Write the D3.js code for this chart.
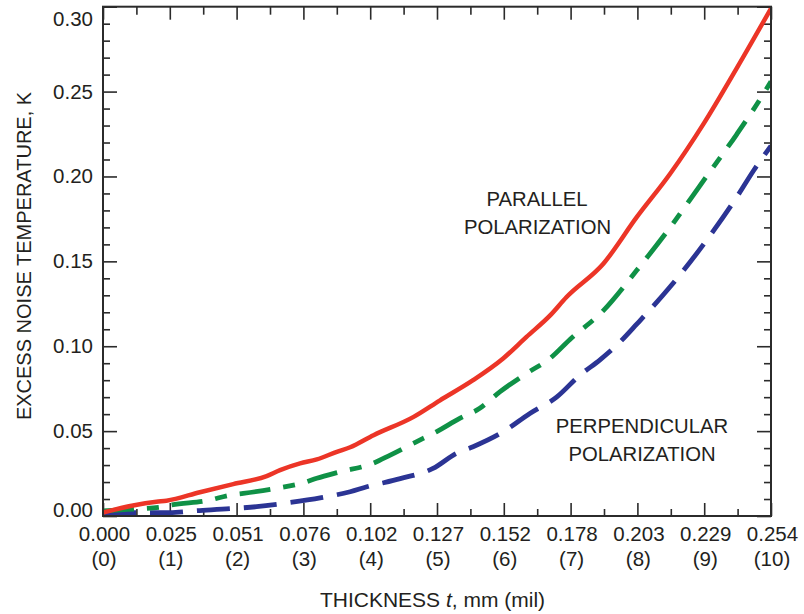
<!DOCTYPE html>
<html>
<head>
<meta charset="utf-8">
<script src="https://cdn.jsdelivr.net/npm/d3@7"></script>
<style>
  html, body { margin: 0; padding: 0; background: #fff; }
  svg { display: block; }
  text { font-family: "Liberation Sans", Arial, Helvetica, sans-serif; fill: #231f20; }
</style>
</head>
<body>
<svg id="chart" width="804" height="614"></svg>
<script>
// ---- data (thickness in mil, excess noise temperature in K) ----
const parallelMil = [0, 0.45, 0.8, 0.95, 1.45, 1.95, 2.45, 2.65, 2.95, 3.2, 3.5, 3.7, 4.05, 4.65, 5.04, 5.54, 5.99, 6.34, 6.69, 6.94, 7.49, 7.99, 8.49, 8.99, 9.49, 10];
const parallelK   = [0.002, 0.0062, 0.0084, 0.009, 0.014, 0.0188, 0.0235, 0.027, 0.031, 0.0333, 0.0378, 0.0405, 0.0476, 0.0584, 0.068, 0.080, 0.0928, 0.1055, 0.118, 0.129, 0.1486, 0.176, 0.2016, 0.231, 0.264, 0.299];

const midMil = [0, 0.45, 0.9, 1.03, 1.55, 1.92, 2.1, 2.6, 3.0, 3.2, 3.55, 4.04, 4.3, 4.69, 4.99, 5.34, 5.64, 5.94, 6.34, 6.69, 6.99, 7.49, 7.99, 8.49, 8.99, 9.49, 9.84, 10];
const midK   = [0.003, 0.004, 0.0055, 0.0065, 0.009, 0.0124, 0.0133, 0.0163, 0.0196, 0.0222, 0.026, 0.031, 0.0359, 0.0437, 0.0496, 0.0575, 0.0634, 0.0731, 0.084, 0.0928, 0.104, 0.121, 0.1447, 0.170, 0.1976, 0.225, 0.2457, 0.256];

const perpMil = [0, 0.45, 1.0, 1.35, 1.9, 2.3, 2.72, 3.27, 3.7, 3.95, 4.45, 4.94, 5.29, 5.54, 5.99, 6.39, 6.79, 7.14, 7.44, 7.74, 7.99, 8.49, 8.99, 9.49, 9.74, 10];
const perpK   = [0.002, 0.002, 0.002, 0.003, 0.0043, 0.0055, 0.0075, 0.0108, 0.0143, 0.0172, 0.022, 0.028, 0.0369, 0.0408, 0.0496, 0.0604, 0.070, 0.083, 0.092, 0.1025, 0.113, 0.135, 0.160, 0.188, 0.2035, 0.218];

const xTickMil   = [0, 1, 2, 3, 4, 5, 6, 7, 8, 9, 10];
const xTickMm    = ["0.000", "0.025", "0.051", "0.076", "0.102", "0.127", "0.152", "0.178", "0.203", "0.229", "0.254"];
const xTickMilLb = ["(0)", "(1)", "(2)", "(3)", "(4)", "(5)", "(6)", "(7)", "(8)", "(9)", "(10)"];
const yTicks     = [0, 0.05, 0.10, 0.15, 0.20, 0.25, 0.30];
const yTickLb    = ["0.00", "0.05", "0.10", "0.15", "0.20", "0.25", "0.30"];

// ---- layout ----
const L = 103, R = 771, T = 6.7, B = 516;
const svg = d3.select("#chart");
const x = d3.scaleLinear().domain([0, 10]).range([L, R]);
const y = d3.scaleLinear().domain([0, 0.30]).range([B, T]);
const axisColor = "#2b2b2b";

const xMinor = d3.range(0.5, 10, 1);
const yMinor = d3.range(1, 30).map(i => i / 100).filter(v => Math.abs(v * 20 - Math.round(v * 20)) > 1e-6);

function styleAxis(g) {
  g.select(".domain").remove();
  g.selectAll(".tick line").attr("stroke", axisColor).attr("stroke-width", 1.6);
  g.selectAll(".tick text").remove();
}

// bottom / top ticks
svg.append("g").attr("transform", `translate(0,${B})`)
  .call(d3.axisBottom(x).tickValues(xTickMil).tickSize(-13).tickFormat("")).call(styleAxis);
svg.append("g").attr("transform", `translate(0,${B})`)
  .call(d3.axisBottom(x).tickValues(xMinor).tickSize(-7).tickFormat("")).call(styleAxis);
svg.append("g").attr("transform", `translate(0,${T})`)
  .call(d3.axisTop(x).tickValues(xTickMil).tickSize(-13).tickFormat("")).call(styleAxis);
svg.append("g").attr("transform", `translate(0,${T})`)
  .call(d3.axisTop(x).tickValues(xMinor).tickSize(-8).tickFormat("")).call(styleAxis);
// left / right ticks
svg.append("g").attr("transform", `translate(${L},0)`)
  .call(d3.axisLeft(y).tickValues(yTicks).tickSize(-14).tickFormat("")).call(styleAxis);
svg.append("g").attr("transform", `translate(${L},0)`)
  .call(d3.axisLeft(y).tickValues(yMinor).tickSize(-7).tickFormat("")).call(styleAxis);
svg.append("g").attr("transform", `translate(${R},0)`)
  .call(d3.axisRight(y).tickValues(yTicks).tickSize(-14).tickFormat("")).call(styleAxis);
svg.append("g").attr("transform", `translate(${R},0)`)
  .call(d3.axisRight(y).tickValues(yMinor).tickSize(-7).tickFormat("")).call(styleAxis);

// ---- curves ----
const line = d3.line().x(d => x(d[0])).y(d => y(d[1])).curve(d3.curveMonotoneX);
const clip = svg.append("clipPath").attr("id", "plotclip")
  .append("rect").attr("x", L).attr("y", T).attr("width", R - L).attr("height", B - T);

const plot = svg.append("g").attr("clip-path", "url(#plotclip)");
plot.append("path").datum(d3.zip(perpMil, perpK))
  .attr("d", line).attr("fill", "none").attr("stroke", "#2b3494")
  .attr("stroke-width", 4.8).attr("stroke-dasharray", "33,14");
plot.append("path").datum(d3.zip(midMil, midK))
  .attr("d", line).attr("fill", "none").attr("stroke", "#0f9146")
  .attr("stroke-width", 4.8).attr("stroke-dasharray", "31,13,12,13");
plot.append("path").datum(d3.zip(parallelMil, parallelK))
  .attr("d", line).attr("fill", "none").attr("stroke", "#ec3527")
  .attr("stroke-width", 4.5);

// frame
svg.append("rect").attr("x", L).attr("y", T).attr("width", R - L).attr("height", B - T)
  .attr("fill", "none").attr("stroke", axisColor).attr("stroke-width", 2);

// ---- tick labels ----
const fs = 20.5;
svg.append("g").selectAll("text").data(xTickMil).join("text")
  .attr("x", d => x(d) + 1.5).attr("y", 541)
  .attr("text-anchor", "middle").attr("font-size", fs)
  .text((d, i) => xTickMm[i]);
svg.append("g").selectAll("text").data(xTickMil).join("text")
  .attr("x", d => x(d) + 1).attr("y", 565.5)
  .attr("text-anchor", "middle").attr("font-size", fs)
  .text((d, i) => xTickMilLb[i]);
svg.append("g").selectAll("text").data(yTicks).join("text")
  .attr("x", 93)
  .attr("y", d => {
    let yy = y(d) + 7;
    if (d === 0.30) yy = 26;
    if (d === 0) yy = 516.5;
    return yy;
  })
  .attr("text-anchor", "end").attr("font-size", fs)
  .text((d, i) => yTickLb[i]);

// ---- axis titles ----
const xt = svg.append("text").attr("x", 432.5).attr("y", 606.5)
  .attr("text-anchor", "middle").attr("font-size", 21);
xt.append("tspan").text("THICKNESS ");
xt.append("tspan").attr("font-style", "italic").text("t");
xt.append("tspan").text(", mm (mil)");

svg.append("text")
  .attr("transform", "translate(31,256) rotate(-90)")
  .attr("text-anchor", "middle").attr("font-size", 20)
  .text("EXCESS NOISE TEMPERATURE, K");

// ---- annotations ----
const ann = [
  { t: "PARALLEL", x: 537, y: 206 },
  { t: "POLARIZATION", x: 537.5, y: 234 },
  { t: "PERPENDICULAR", x: 642, y: 433 },
  { t: "POLARIZATION", x: 642, y: 460.5 }
];
svg.append("g").selectAll("text").data(ann).join("text")
  .attr("x", d => d.x).attr("y", d => d.y)
  .attr("text-anchor", "middle").attr("font-size", 20.3)
  .text(d => d.t);
</script>
</body>
</html>
